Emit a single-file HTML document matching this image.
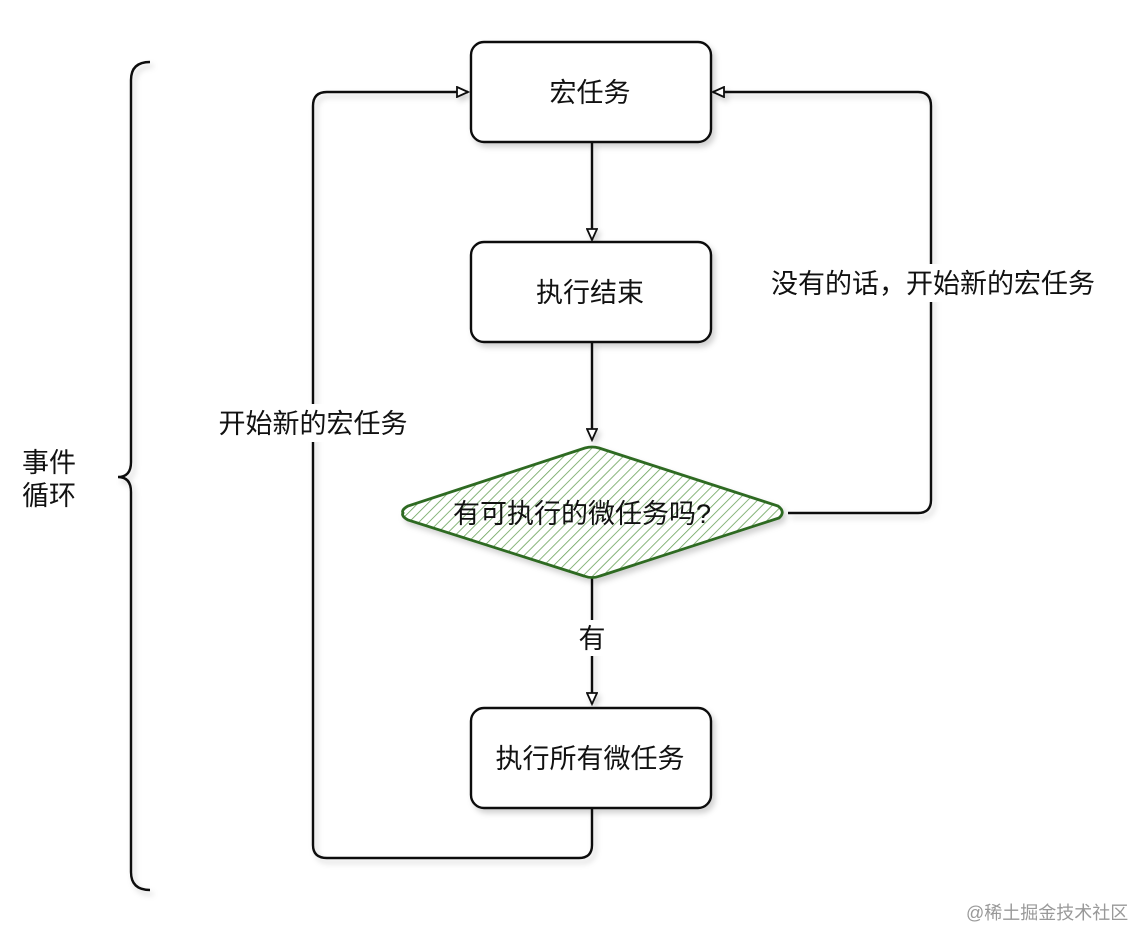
<!DOCTYPE html>
<html><head><meta charset="utf-8"><style>
html,body{margin:0;padding:0;background:#fff;}
svg{display:block;}
text{font-family:"Liberation Sans","Noto Sans CJK SC",sans-serif;fill:#111;}
</style></head><body>
<svg width="1136" height="928" viewBox="0 0 1136 928" xmlns="http://www.w3.org/2000/svg">
<defs>
<pattern id="h" patternUnits="userSpaceOnUse" width="7" height="7" patternTransform="rotate(45)">
<rect width="7" height="7" fill="#fff"/>
<line x1="0" y1="0" x2="0" y2="7" stroke="#6aa35a" stroke-width="1.6"/>
</pattern>
<filter id="sh" x="-10%" y="-10%" width="130%" height="130%"><feDropShadow dx="3" dy="4" stdDeviation="3" flood-color="#000" flood-opacity="0.18"/></filter>
<marker id="a" markerWidth="14" markerHeight="12" refX="12" refY="6" orient="auto" markerUnits="userSpaceOnUse">
<path d="M1,1 L12,6 L1,11 Z" fill="#fff" stroke="#111" stroke-width="1.8"/>
</marker>
</defs>
<g fill="none" stroke="#111" stroke-width="2.4" filter="url(#sh)">
<path d="M150,62 Q131,62 131,80 L131,462 Q131,477 118,477 Q131,477 131,492 L131,872 Q131,890 150,890"/>
<path d="M592,142 L592,240" marker-end="url(#a)"/>
<path d="M592,342 L592,440" marker-end="url(#a)"/>
<path d="M592,578 L592,704" marker-end="url(#a)"/>
<path d="M592,808 L592,845 Q592,858 579,858 L327,858 Q313,858 313,845 L313,106 Q313,92 327,92 L468,92" marker-end="url(#a)"/>
<path d="M788,513 L918,513 Q931,513 931,500 L931,106 Q931,92 918,92 L713,92" marker-end="url(#a)"/>
<rect x="471" y="42" width="240" height="100" rx="13" fill="#fff"/>
<rect x="471" y="242" width="240" height="100" rx="13" fill="#fff"/>
<rect x="471" y="708" width="240" height="100" rx="13" fill="#fff"/>
</g>
<path d="M403,513 Q401,510 408,506 L585,448 Q592,446 599,448 L778,506 Q786,512 779,518 L600,576 Q592,579 584,576 L408,520 Q401,516 403,513 Z" fill="url(#h)" stroke="#2f6b22" stroke-width="2.8" filter="url(#sh)"/>
<g font-size="27">
<text x="590" y="102" text-anchor="middle">宏任务</text>
<text x="590" y="302" text-anchor="middle">执行结束</text>
<text x="582" y="523" text-anchor="middle">有可执行的微任务吗?</text>
<text x="590" y="768" text-anchor="middle">执行所有微任务</text>
<rect x="572" y="620" width="40" height="36" fill="#fff"/>
<text x="592" y="648" text-anchor="middle">有</text>
<rect x="760" y="264" width="346" height="38" fill="#fff"/>
<text x="933" y="293" text-anchor="middle">没有的话，开始新的宏任务</text>
<rect x="210" y="404" width="206" height="38" fill="#fff"/>
<text x="313" y="433" text-anchor="middle">开始新的宏任务</text>
<text x="22" y="472">事件</text>
<text x="22" y="505">循环</text>
</g>
<text x="966" y="919" font-size="18" style="fill:#999">@稀土掘金技术社区</text>
</svg>
</body></html>
